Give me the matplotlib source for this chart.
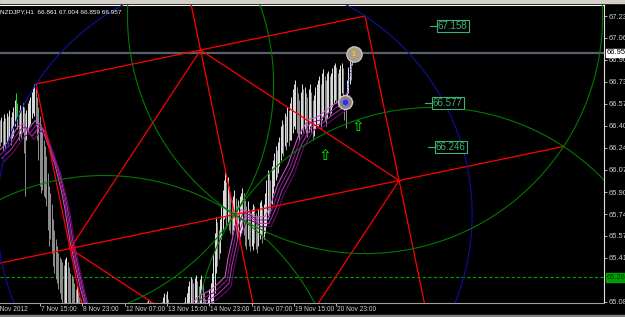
import numpy as np
import matplotlib.pyplot as plt
from matplotlib.patches import Rectangle
from matplotlib.transforms import blended_transform_factory

plt.rcParams['font.family'] = ['Liberation Sans', 'DejaVu Sans']

# visible window: bar index (H1) and price
bar_min, bar_max = 0, 456
price_min, price_max = 65.0715, 67.3138

price_ticks = [67.231, 67.066, 66.901, 66.736, 66.571, 66.406, 66.241,
               66.076, 65.906, 65.741, 65.576, 65.411, 65.081]
time_ticks = [-5, 30, 62, 94, 126, 158, 190, 222, 254]
time_labels = ['6 Nov 2012', '7 Nov 15:00', '8 Nov 23:00', '12 Nov 07:00',
               '13 Nov 15:00', '14 Nov 23:00', '16 Nov 07:00',
               '19 Nov 15:00', '20 Nov 23:00']

# bar highs / lows, one per hour (bar 0 = left edge)
bar_high = [
    66.45, 66.47, 66.44, 66.49, 66.46, 66.50, 66.48, 66.52, 66.47, 66.51,
    66.55, 66.60, 66.65, 66.58, 66.52, 66.56, 66.54, 66.58, 66.55, 66.50,
    66.52, 66.58, 66.60, 66.62, 66.66, 66.70, 66.72, 66.68, 66.62, 66.55,
    66.48, 66.40, 66.36, 66.30, 66.25, 66.18, 66.05, 65.95, 65.90, 65.82,
    65.70, 65.62, 65.55, 65.50, 65.45, 65.42, 65.40, 65.38, 65.36, 65.40,
    65.42, 65.38, 65.34, 65.30, 65.28, 65.26, 65.22, 65.18, 65.20, 65.16,
    65.12, 65.10, 65.08, 65.05, 65.02, 65.00, 64.98, 64.96, 64.95, 64.94,
    64.95, 64.97, 64.93, 64.96, 64.98, 64.94, 64.92, 64.95, 64.97, 64.99,
    64.96, 64.93, 64.95, 64.98, 64.94, 64.92, 64.95, 64.97, 64.93, 64.96,
    64.95, 64.97, 64.93, 64.96, 64.98, 64.94, 64.92, 64.95, 64.97, 64.99,
    64.96, 64.93, 64.95, 64.98, 64.99, 65.00, 64.98, 65.01, 65.03, 65.02,
    65.05, 65.08, 65.10, 65.09, 65.06, 65.02, 64.98, 65.00, 65.03, 64.99,
    65.02, 65.05, 65.08, 65.12, 65.15, 65.14, 65.16, 65.10, 65.05, 65.00,
    64.98, 64.96, 64.99, 65.01, 64.97, 64.95, 64.98, 65.02, 65.05, 65.08,
    65.12, 65.15, 65.20, 65.24, 65.27, 65.25, 65.22, 65.26, 65.28, 65.24,
    65.20, 65.25, 65.28, 65.22, 65.15, 65.10, 65.08, 65.12, 65.18, 65.22,
    65.30, 65.45, 65.60, 65.72, 65.68, 65.62, 65.70, 65.80, 65.92, 66.00,
    66.05, 65.98, 66.02, 65.95, 65.90, 65.85, 65.88, 65.92, 65.86, 65.80,
    65.85, 65.88, 65.90, 65.94, 65.90, 65.85, 65.80, 65.84, 65.78, 65.75,
    65.78, 65.82, 65.80, 65.75, 65.72, 65.78, 65.83, 65.85, 65.80, 65.82,
    65.90, 66.00, 66.07, 66.05, 66.00, 66.10, 66.15, 66.20, 66.25, 66.22,
    66.28, 66.32, 66.40, 66.45, 66.42, 66.50, 66.48, 66.55, 66.52, 66.58,
    66.62, 66.68, 66.72, 66.75, 66.70, 66.65, 66.60, 66.66, 66.72, 66.68,
    66.70, 66.65, 66.62, 66.68, 66.72, 66.66, 66.60, 66.64, 66.70, 66.72,
    66.75, 66.78, 66.72, 66.80, 66.83, 66.78, 66.75, 66.80, 66.82, 66.78,
    66.80, 66.84, 66.86, 66.88, 66.85, 66.80, 66.83, 66.86, 66.88, 66.84,
    66.62, 66.60, 66.75, 66.85, 66.90, 66.88, 67.004,
]
bar_low = [
    66.25, 66.28, 66.22, 66.26, 66.24, 66.29, 66.27, 66.30, 66.26, 66.31,
    66.33, 66.40, 66.45, 66.38, 66.30, 66.34, 66.31, 66.36, 66.20, 65.88,
    66.30, 66.36, 66.40, 66.42, 66.46, 66.50, 66.48, 66.40, 66.30, 66.15,
    65.95, 65.90, 65.92, 65.88, 65.86, 65.80, 65.62, 65.50, 65.55, 65.45,
    65.35, 65.30, 65.25, 65.22, 65.18, 65.15, 65.10, 65.05, 65.02, 65.04,
    65.05, 65.02, 65.00, 64.98, 64.95, 64.95, 64.92, 64.90, 64.92, 64.88,
    64.85, 64.84, 64.82, 64.80, 64.80, 64.78, 64.78, 64.76, 64.75, 64.75,
    64.75, 64.76, 64.74, 64.75, 64.77, 64.75, 64.73, 64.75, 64.76, 64.78,
    64.76, 64.74, 64.75, 64.77, 64.75, 64.73, 64.75, 64.76, 64.74, 64.75,
    64.75, 64.76, 64.74, 64.75, 64.77, 64.75, 64.73, 64.75, 64.76, 64.78,
    64.76, 64.74, 64.75, 64.77, 64.78, 64.80, 64.79, 64.80, 64.82, 64.81,
    64.82, 64.84, 64.85, 64.84, 64.83, 64.82, 64.80, 64.81, 64.82, 64.80,
    64.82, 64.84, 64.85, 64.86, 64.88, 64.87, 64.88, 64.86, 64.84, 64.82,
    64.80, 64.79, 64.80, 64.82, 64.80, 64.79, 64.80, 64.82, 64.85, 64.88,
    64.90, 64.92, 64.95, 64.96, 64.98, 64.97, 64.95, 64.97, 64.98, 64.96,
    64.95, 64.97, 64.98, 64.96, 64.94, 64.92, 64.90, 64.93, 64.96, 64.98,
    65.00, 65.05, 65.15, 65.30, 65.35, 65.40, 65.45, 65.55, 65.62, 65.70,
    65.72, 65.65, 65.68, 65.62, 65.60, 65.58, 65.62, 65.66, 65.60, 65.55,
    65.58, 65.55, 65.60, 65.62, 65.58, 65.50, 65.48, 65.55, 65.50, 65.46,
    65.50, 65.47, 65.52, 65.48, 65.45, 65.50, 65.55, 65.58, 65.52, 65.55,
    65.60, 65.65, 65.70, 65.72, 65.75, 65.82, 65.90, 65.95, 66.00, 66.02,
    66.05, 66.10, 66.15, 66.20, 66.18, 66.25, 66.22, 66.28, 66.25, 66.30,
    66.30, 66.35, 66.40, 66.38, 66.35, 66.32, 66.28, 66.34, 66.38, 66.36,
    66.38, 66.35, 66.32, 66.36, 66.40, 66.35, 66.30, 66.33, 66.38, 66.40,
    66.40, 66.42, 66.38, 66.45, 66.48, 66.44, 66.40, 66.46, 66.50, 66.48,
    66.50, 66.55, 66.58, 66.60, 66.58, 66.55, 66.58, 66.62, 66.65, 66.60,
    66.45, 66.39, 66.55, 66.65, 66.72, 66.75, 66.859,
]
lime_bars = [12]

# moving average band
ma_bar = [0, 7.5, 15.1, 18.9, 22.6, 27.9, 32.5, 37.7, 43.0, 47.6, 50.6,
          54.4, 58.1, 61.9, 66.4, 100, 143.4, 151.0, 160.8, 166.1, 171.4,
          173.6, 178.9, 183.4, 188.7, 194.0, 201.6, 206.1, 211.4, 218.9,
          226.5, 234.0, 241.6, 249.1, 256.7, 262.0, 264.2]
ma_price = [66.185, 66.260, 66.373, 66.396, 66.351, 66.418, 66.388, 66.238,
            66.087, 65.899, 65.749, 65.508, 65.335, 65.169, 65.004, 64.70,
            65.004, 65.094, 65.147, 65.192, 65.245, 65.380, 65.621, 65.749,
            65.734, 65.696, 65.696, 65.794, 65.944, 66.087, 66.298, 66.426,
            66.448, 66.509, 66.561, 66.599, 66.637]
ma_shift = [(-1.5, 0.025), (0.0, 0.0), (1.5, -0.025), (3.0, -0.05)]
ma_colors = ['#cc55cc', '#8a1a8a', '#b030b0', '#6e0a6e']

# gann square anchors (top-left, top-right corner)
gann_bar = [27.2, 275.6]
gann_price = [66.719, 67.231]

# price level tags
level_price = [67.158, 66.577, 66.246]
level_bar = [329.9, 326.1, 328.4]

bid_price = 66.953
order_price = 65.264

trade_bar = [260.5, 267.2]
trade_price = [66.584, 66.945]
arrow_bar = [245.4, 270.3]
arrow_price = [66.185, 66.396]

header = 'NZDJPY,H1  66.861 67.004 66.859 66.957'

# ---------------------------------------------------------------
W, H = 625, 317
fig = plt.figure(figsize=(W / 100, H / 100), dpi=100, facecolor='black')
ax = fig.add_axes([0, 14 / H, 604 / W, 298 / H])
ax.set_facecolor('black')
ax.set_xlim(bar_min, bar_max)
ax.set_ylim(price_min, price_max)

fig.patches.append(Rectangle((0, (H - 3) / H), 1, 3 / H, transform=fig.transFigure,
                             color='#d4d0c8', zorder=0))
fig.patches.append(Rectangle((0, 0), 1, 2 / H, transform=fig.transFigure,
                             color='#808080', zorder=0))

ax.spines['left'].set_visible(False)
ax.spines['top'].set_color('white')
ax.spines['right'].set_color('#e0e0e0')
ax.spines['bottom'].set_color('#a0a0a0')
for s in ['top', 'right', 'bottom']:
    ax.spines[s].set_linewidth(0.8)

# bars: white when the high rose, grey otherwise
bars = np.arange(len(bar_high))
hi = np.array(bar_high)
cols = []
for b in bars:
    if b in lime_bars:
        cols.append('#00ff00')
    elif b > 0 and hi[b] > hi[b - 1]:
        cols.append('#f0f0f0')
    else:
        cols.append('#9a9a9a')
ax.vlines(bars, bar_low, bar_high, colors=cols, lw=0.65, zorder=2)

# MA band
for (db, dp), c in zip(ma_shift, ma_colors):
    ax.plot(np.array(ma_bar) + db, np.array(ma_price) + dp, color=c, lw=0.75, zorder=2.5)

# horizontal lines
ax.axhline(bid_price, color='#56606a', lw=1.6, zorder=1.5)
ax.axhline(order_price, color='#00a000', lw=0.8, ls=(0, (3, 2)), zorder=1.5)

# gann square / circles, built in screen space like the terminal does
to_px = ax.transData.transform
to_data = ax.transData.inverted().transform
tl = to_px((gann_bar[0], gann_price[0]))
tr = to_px((gann_bar[1], gann_price[1]))
u = tr - tl
v = np.array([u[1], -u[0]])
br, bl = tr + v, tl + v
ctr = tl + (u + v) / 2
m_top, m_right, m_bot, m_left = tl + u / 2, tr + v / 2, bl + u / 2, tl + v / 2
rad = np.hypot(*(u + v)) / 2


def seg(*pts, **kw):
    d = to_data(np.array(pts))
    ax.plot(d[:, 0], d[:, 1], **kw)


def ring(c, r, **kw):
    t = np.linspace(0, 2 * np.pi, 721)
    d = to_data(np.column_stack([c[0] + r * np.cos(t), c[1] + r * np.sin(t)]))
    ax.plot(d[:, 0], d[:, 1], **kw)


red = dict(color='#ff0000', lw=0.9, zorder=3)
seg(tl, tr, **red)
seg(tr, br, **red)
seg(tl, bl, **red)
seg(bl, br, **red)
seg(m_top, m_right, m_bot, m_left, m_top, **red)
seg(m_top - v / 2, m_bot + v / 2, **red)
seg(m_left - u / 2, m_right + u / 2, **red)

ring(ctr, rad, color='#1010a0', lw=0.8, zorder=3)
for c in (tl, tr, br, bl):
    ring(c, rad, color='#007a00', lw=0.8, zorder=3)

# level tags
for b, p in zip(level_bar, level_price):
    ax.plot([b - 5, b], [p, p], color='#3cb371', lw=0.8, zorder=4)
    ax.text(b + 0.6, p, f'{p:.3f}', color='#3cb371', fontsize=7, ha='left', va='center',
            zorder=4, bbox=dict(boxstyle='square,pad=0.12', fc='black', ec='#3cb371', lw=0.8))

# trade line and markers
ax.plot(trade_bar, trade_price, color='#3040ff', lw=0.8, ls=':', zorder=4)
ax.plot(trade_bar[1], trade_price[1], 'o', ms=11, color='#a89c8c', mec='#c8c0b8', zorder=5)
ax.text(trade_bar[1], trade_price[1], '1', color='#ffcc00', fontsize=5, fontweight='bold',
        ha='center', va='center', zorder=6)
ax.plot(trade_bar[0], trade_price[0], 'o', ms=10, color='#8c8088', mec='#d0c8d0', zorder=5)
ax.plot(trade_bar[0], trade_price[0], 'o', ms=3, color='#2030ff', zorder=6)
for b, p in zip(arrow_bar, arrow_price):
    ax.text(b, p, '\u21e7', color='#00ff00', fontsize=11, family='DejaVu Sans',
            ha='center', va='center', zorder=5)

# axes text
ax.yaxis.tick_right()
ax.set_yticks(price_ticks, [f'{p:.3f}' for p in price_ticks])
ax.tick_params(axis='y', color='#d0d0d0', labelcolor='#d0d0d0', labelsize=5.4,
               length=2, width=0.6, pad=1)
ax.set_xticks(time_ticks[1:], [''] * (len(time_ticks) - 1))
ax.tick_params(axis='x', color='#d0d0d0', length=2.5, width=0.6)
xt = blended_transform_factory(ax.transData, ax.transAxes)
for b, lab in zip(time_ticks, time_labels):
    ax.text(b + 0.8, -0.022, lab, transform=xt, color='#d0d0d0', fontsize=4.8,
            ha='left', va='center', clip_on=False)

yt = blended_transform_factory(ax.transAxes, ax.transData)
ax.text(1.004, bid_price, f'{bid_price:.3f}', transform=yt, color='black', fontsize=5.4,
        ha='left', va='center', clip_on=False,
        bbox=dict(boxstyle='square,pad=0.12', fc='white', ec='white'))
ax.text(1.004, order_price, f'{order_price:.3f}', transform=yt, color='#003000', fontsize=5.4,
        ha='left', va='center', clip_on=False,
        bbox=dict(boxstyle='square,pad=0.12', fc='#00a000', ec='#00a000'))

ax.text(0.0, 0.985, header, transform=ax.transAxes, color='white', fontsize=4.6,
        ha='left', va='top')

fig.savefig('out.png', dpi=100, facecolor='black')
